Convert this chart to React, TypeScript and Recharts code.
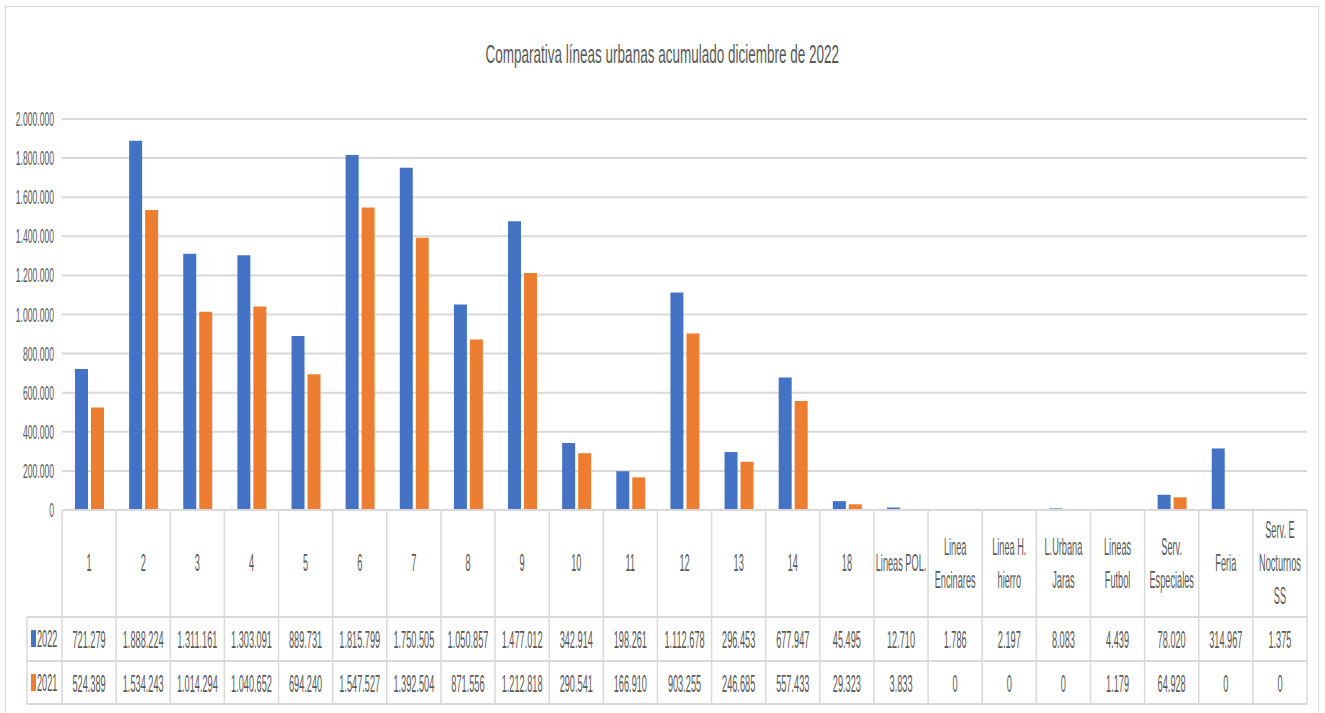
import React from 'react';
import { Bar, BarChart, CartesianGrid, XAxis, YAxis } from 'recharts';

const categories = [
  '1', '2', '3', '4', '5', '6', '7', '8', '9', '10', '11', '12', '13', '14', '18',
  'Lineas POL.', 'Linea\nEncinares', 'Linea H.\nhierro', 'L.Urbana\nJaras', 'Lineas\nFutbol',
  'Serv.\nEspeciales', 'Feria', 'Serv. E\nNocturnos\nSS',
];

const values2022 = [
  721279, 1888224, 1311161, 1303091, 889731, 1815799, 1750505, 1050857, 1477012, 342914,
  198261, 1112678, 296453, 677947, 45495, 12710, 1786, 2197, 8083, 4439, 78020, 314967, 1375,
];

const values2021 = [
  524389, 1534243, 1014294, 1040652, 694240, 1547527, 1392504, 871556, 1212818, 290541,
  166910, 903255, 246685, 557433, 29323, 3833, 0, 0, 0, 1179, 64928, 0, 0,
];

const yTicks = [0, 200000, 400000, 600000, 800000, 1000000, 1200000, 1400000, 1600000, 1800000, 2000000];

const title = 'Comparativa líneas urbanas acumulado diciembre de 2022';
const seriesNames = ['2022', '2021'];

const data = categories.map((name, i) => ({ name, v2022: values2022[i], v2021: values2021[i] }));

const BLUE = '#4472C4';
const ORANGE = '#ED7D31';
const GRID = '#D9D9D9';
const TEXT = '#595959';
const FONT = '"Liberation Sans", Arial, sans-serif';

const W = 1325;
const H = 713;
const PLOT_LEFT = 62;
const PLOT_RIGHT = 1307;
const cellW = (PLOT_RIGHT - PLOT_LEFT) / categories.length;

const fmt = (n: number) => String(n).replace(/\B(?=(\d{3})+(?!\d))/g, '.');

function SqText({ x, y, children, size = 23, sx = 0.4, anchor = 'middle' }: any) {
  return (
    <text
      transform={`translate(${x},${y}) scale(${sx},1)`}
      textAnchor={anchor}
      fontFamily={FONT}
      fontSize={size}
      fill={TEXT}
    >
      {children}
    </text>
  );
}

function YTick({ x, y, payload }: any) {
  return (
    <SqText x={x} y={y + 7} size={20} sx={0.43} anchor="end">
      {fmt(payload.value)}
    </SqText>
  );
}

// draws one column of the data table under the plot
function TableTick({ x, y, payload, index }: any) {
  const left = x - cellW / 2;
  const headBottom = y + 107;
  const rowSep = y + 151;
  const bottom = y + 194;
  const lines = String(payload.value).split('\n');
  const lineH = 33;
  const headMid = y + 53;
  const first = headMid - ((lines.length - 1) * lineH) / 2;
  const last = index === categories.length - 1;

  return (
    <g>
      {index === 0 && (
        <g>
          <line x1={27} x2={PLOT_RIGHT} y1={headBottom} y2={headBottom} stroke={GRID} strokeWidth={2} />
          <line x1={27} x2={PLOT_RIGHT} y1={rowSep} y2={rowSep} stroke={GRID} strokeWidth={2} />
          <line x1={27} x2={PLOT_RIGHT} y1={bottom} y2={bottom} stroke={GRID} strokeWidth={2} />
          <line x1={27} x2={27} y1={headBottom} y2={bottom} stroke={GRID} strokeWidth={1.5} />
          <rect x={31} y={y + 120} width={5} height={17} fill={BLUE} />
          <rect x={31} y={y + 164} width={5} height={17} fill={ORANGE} />
          <SqText x={37} y={y + 137} anchor="start">{seriesNames[0]}</SqText>
          <SqText x={37} y={y + 181} anchor="start">{seriesNames[1]}</SqText>
        </g>
      )}
      <line x1={left} x2={left} y1={y} y2={bottom} stroke={GRID} strokeWidth={1.5} />
      {last && <line x1={left + cellW} x2={left + cellW} y1={y} y2={bottom} stroke={GRID} strokeWidth={1.5} />}
      {lines.map((t, i) => (
        <SqText key={i} x={x} y={first + i * lineH + 8}>
          {t}
        </SqText>
      ))}
      <SqText x={x} y={y + 138}>{fmt(values2022[index])}</SqText>
      <SqText x={x} y={y + 182}>{fmt(values2021[index])}</SqText>
    </g>
  );
}

export default function App() {
  return (
    <div style={{ position: 'absolute', left: 0, top: 0, width: W, height: H, background: '#fff', overflow: 'hidden' }}>
      <div
        style={{
          position: 'absolute',
          left: 5,
          top: 6,
          width: 1312,
          height: 730,
          border: `1.5px solid ${GRID}`,
        }}
      />
      <div
        style={{
          position: 'absolute',
          left: 0,
          top: 40,
          width: W,
          textAlign: 'center',
          fontFamily: FONT,
          fontSize: 25,
          color: TEXT,
        }}
      >
        <span style={{ display: 'inline-block', transform: 'scaleX(0.54)' }}>{title}</span>
      </div>
      <div style={{ position: 'absolute', left: 0, top: 0 }}>
        <BarChart
          width={W}
          height={H}
          data={data}
          margin={{ top: 119, right: W - PLOT_RIGHT, bottom: 0, left: 0 }}
          barCategoryGap="24%"
          barGap={3}
        >
          <CartesianGrid vertical={false} stroke={GRID} strokeWidth={2} />
          <YAxis
            width={PLOT_LEFT}
            domain={[0, 2000000]}
            ticks={yTicks}
            axisLine={false}
            tickLine={false}
            tick={<YTick />}
          />
          <XAxis
            dataKey="name"
            height={203}
            interval={0}
            tickLine={false}
            tickSize={0}
            tickMargin={0}
            axisLine={{ stroke: GRID, strokeWidth: 2 }}
            tick={<TableTick />}
          />
          <Bar dataKey="v2022" name="2022" fill={BLUE} isAnimationActive={false} />
          <Bar dataKey="v2021" name="2021" fill={ORANGE} isAnimationActive={false} />
        </BarChart>
      </div>
    </div>
  );
}
